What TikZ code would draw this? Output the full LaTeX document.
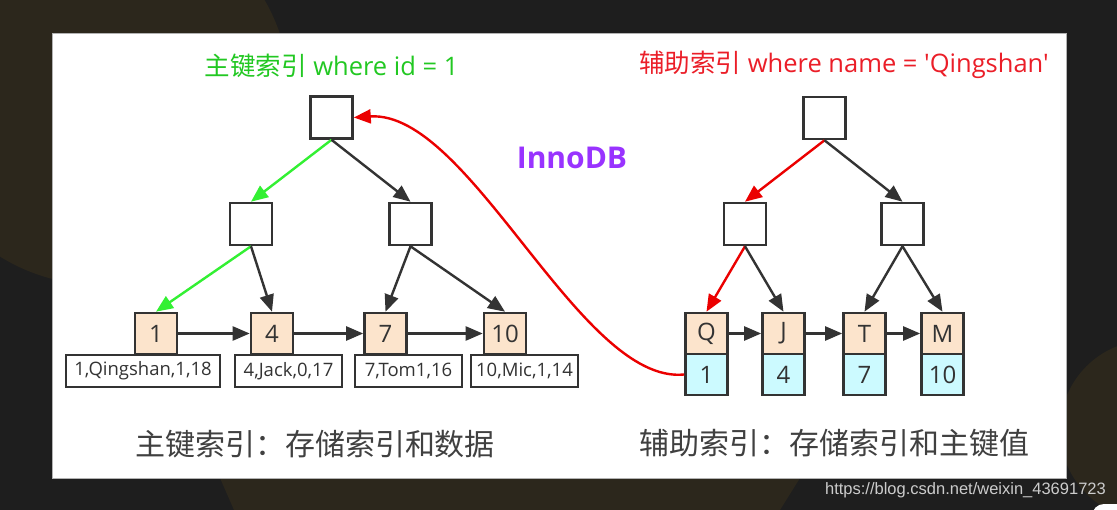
\documentclass[tikz,border=0pt]{standalone}
\usepackage{fontspec}
\setmainfont{Open Sans}[Ligatures=TeXOff]
\newfontfamily\cjk{Noto Sans CJK SC}
\newfontfamily\urlfont{Liberation Sans}
\usetikzlibrary{arrows.meta}
\definecolor{bgdark}{RGB}{30,30,30}
\definecolor{bgbrown}{RGB}{44,39,28}
\definecolor{boxline}{RGB}{51,51,51}
\definecolor{peach}{RGB}{252,228,204}
\definecolor{cyanfill}{RGB}{204,250,255}
\definecolor{arrowgreen}{RGB}{51,240,51}
\definecolor{textgreen}{RGB}{34,200,34}
\definecolor{arrowred}{RGB}{235,0,0}
\definecolor{textred}{RGB}{235,30,40}
\definecolor{innopurple}{RGB}{153,51,255}
\definecolor{captiongray}{RGB}{64,64,64}
\tikzset{
  inode/.style={draw=boxline, line width=2.6pt, fill=white, minimum width=42pt, minimum height=42pt, inner sep=0pt},
  leafbox/.style={draw=boxline, line width=2.6pt, fill=peach, minimum width=42pt, minimum height=41pt, inner sep=0pt, font=\fontsize{24pt}{24pt}\selectfont, text=boxline},
  keybox/.style={draw=boxline, line width=2.6pt, fill=cyanfill, minimum width=42pt, minimum height=41pt, inner sep=0pt, font=\fontsize{24pt}{24pt}\selectfont, text=boxline},
  databox/.style={draw=boxline, line width=2.6pt, fill=white, minimum height=32pt, inner sep=0pt, font=\fontsize{18.5pt}{18.5pt}\selectfont, text=boxline},
  headtip/.tip={Triangle[length=17pt,width=14pt]},
  tarrow/.style={draw=boxline, fill=boxline, line width=2.4pt, -headtip},
  garrow/.style={draw=arrowgreen, fill=arrowgreen, line width=2.4pt, -headtip},
  rarrow/.style={draw=arrowred, line width=2.4pt, -headtip},
  caption/.style={font=\cjk\fontsize{30pt}{30pt}\selectfont, text=captiongray},
  title/.style={font=\fontsize{25.5pt}{25.5pt}\selectfont}
}
\begin{document}
\begin{tikzpicture}[x=1pt,y=-1pt]
\useasboundingbox (0,0) rectangle (1117,510);
\clip (0,0) rectangle (1117,510);
% background
\fill[bgdark] (0,0) rectangle (1117,510);
\fill[bgbrown] (100,95) circle (190pt);
\fill[bgbrown] (220,478) -- (234,510) -- (780,510) -- (800,478) -- cycle;
\fill[bgbrown] (1150,430) circle (90pt);
\fill[white, rounded corners=12pt] (1092,504) rectangle (1150,545);
% panel
\fill[white, draw=gray!60, line width=0.8pt] (52,33) rectangle (1066,478);

% titles
\node[title, text=textgreen] (t1) at (331.5,66) {{\cjk 主键索引} where id = 1};
\node[title, text=textred] (t2) at (844,65) {{\cjk 辅助索引} where name = 'Qingshan'};
\node[font=\bfseries\fontsize{30pt}{30pt}\selectfont, text=innopurple] (inno) at (572,158) {InnoDB};

% left tree
\node[inode] (lroot) at (331.5,117.5) {};
\node[inode] (lml) at (251,224) {};
\node[inode] (lmr) at (410.5,224) {};
\node[leafbox] (l1) at (156,333.5) {1};
\node[leafbox] (l4) at (272,333.5) {4};
\node[leafbox] (l7) at (385.5,333.5) {7};
\node[leafbox] (l10) at (505,333.5) {10};
\node[databox, minimum width=154pt] (d1) at (143,371) {1,Qingshan,1,18};
\node[databox, minimum width=107pt] (d4) at (288.5,371) {4,Jack,0,17};
\node[databox, minimum width=107pt] (d7) at (408.5,371) {7,Tom1,16};
\node[databox, minimum width=107pt] (d10) at (524.5,371) {10,Mic,1,14};

\draw[garrow] (lroot.south) -- (lml.north);
\draw[tarrow] (lroot.south) -- (lmr.north);
\draw[garrow] (lml.south) -- (l1.north);
\draw[tarrow] (lml.south) -- (l4.north);
\draw[tarrow] (lmr.south) -- (l7.north);
\draw[tarrow] (lmr.south) -- (l10.north);
\draw[tarrow] (l1.east) -- (l4.west);
\draw[tarrow] (l4.east) -- (l7.west);
\draw[tarrow] (l7.east) -- (l10.west);

% right tree
\node[inode] (rroot) at (824.5,118) {};
\node[inode] (rml) at (745,224) {};
\node[inode] (rmr) at (902.5,224) {};
\node[leafbox] (q) at (706.5,333.5) {Q};
\node[leafbox] (j) at (783.5,333.5) {J};
\node[leafbox] (t) at (864.5,333.5) {T};
\node[leafbox] (m) at (942.5,333.5) {M};
\node[keybox] (q1) at (706.5,374.5) {1};
\node[keybox] (j4) at (783.5,374.5) {4};
\node[keybox] (t7) at (864.5,374.5) {7};
\node[keybox] (m10) at (942.5,374.5) {10};

\draw[rarrow, fill=arrowred] (rroot.south) -- (rml.north);
\draw[tarrow] (rroot.south) -- (rmr.north);
\draw[rarrow, fill=arrowred] (rml.south) -- (q.north);
\draw[tarrow] (rml.south) -- (j.north);
\draw[tarrow] (rmr.south) -- (t.north);
\draw[tarrow] (rmr.south) -- (m.north);
\draw[tarrow] (q.east) -- (j.west);
\draw[tarrow] (j.east) -- (t.west);
\draw[tarrow] (t.east) -- (m.west);

% lookup back to primary index
\draw[rarrow] (q1.west) .. controls (580,385) and (470,110) .. (lroot.east);

% captions
\node[caption] (c1) at (315,444) {主键索引：存储索引和数据};
\node[caption] (c2) at (834,443) {辅助索引：存储索引和主键值};

% url
\node[anchor=east, font=\urlfont\fontsize{16.5pt}{16.5pt}\selectfont, text=white!80!black, inner sep=0pt] (url) at (1106,490) {https://blog.csdn.net/weixin\_43691723};
\end{tikzpicture}
\end{document}
